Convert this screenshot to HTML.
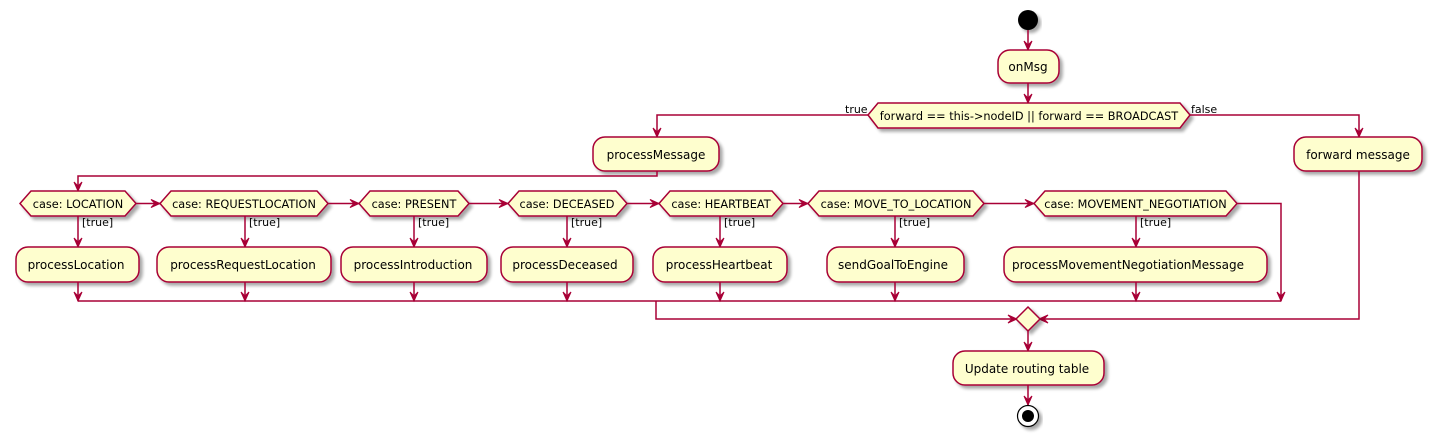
<!DOCTYPE html>
<html><head><meta charset="utf-8"><style>
html,body{margin:0;padding:0;background:#fff;}
svg{display:block;}
text{font-family:"DejaVu Sans","Liberation Sans",sans-serif;fill:#000;}
.b{fill:#FEFECE;stroke:#A80036;stroke-width:1.5;filter:url(#sh);}
.l{fill:none;stroke:#A80036;stroke-width:1.5;}
.a{fill:#A80036;stroke:#A80036;stroke-width:1;}
</style></head><body>
<svg width="1432" height="437" viewBox="0 0 1432 437" xmlns="http://www.w3.org/2000/svg">
<defs>
<filter id="sh" x="-10%" y="-20%" width="130%" height="160%">
<feGaussianBlur in="SourceAlpha" stdDeviation="1.5"/>
<feOffset dx="3" dy="3" result="o"/>
<feComponentTransfer><feFuncA type="linear" slope="0.35"/></feComponentTransfer>
<feMerge><feMergeNode/><feMergeNode in="SourceGraphic"/></feMerge>
</filter>
</defs>

<circle cx="1028" cy="20" r="10" fill="#000" filter="url(#sh)"/>
<path class="l" d="M1028 30 V50"/>
<path class="a" d="M1024 41 L1028 50 L1032 41 L1028 45 Z"/>
<rect class="b" x="998" y="50" width="61" height="33" rx="12"/>
<text x="1028" y="71" font-size="12" text-anchor="middle">onMsg</text>
<path class="l" d="M1028 83 V103"/>
<path class="a" d="M1024 94 L1028 103 L1032 94 L1028 98 Z"/>

<polygon class="b" points="868,115 878,103 1180,103 1190,115 1180,128 878,128"/>
<text x="1029" y="120" font-size="11.3" text-anchor="middle">forward == this-&gt;nodeID || forward == BROADCAST</text>
<text x="845" y="113" font-size="11">true</text>
<text x="1191" y="113" font-size="11">false</text>

<path class="l" d="M868 115 H657 V137"/>
<path class="a" d="M653 128 L657 137 L661 128 L657 132 Z"/>
<path class="l" d="M1190 115 H1359 V137"/>
<path class="a" d="M1355 128 L1359 137 L1363 128 L1359 132 Z"/>

<rect class="b" x="593" y="137" width="126" height="34" rx="12"/>
<text x="656" y="159" font-size="12" text-anchor="middle">processMessage</text>
<rect class="b" x="1294" y="137" width="128" height="34" rx="12"/>
<text x="1358" y="159" font-size="12" text-anchor="middle">forward message</text>

<path class="l" d="M657 171 V176 H78 V191"/>
<path class="a" d="M74 182 L78 191 L82 182 L78 186 Z"/>

<polygon class="b" points="20,203.5 31,191 125,191 136,203.5 125,216 31,216"/>
<text x="78" y="208" font-size="11.3" text-anchor="middle">case: LOCATION</text>
<polygon class="b" points="160,203.5 171,191 317,191 328,203.5 317,216 171,216"/>
<text x="244" y="208" font-size="11.3" text-anchor="middle">case: REQUESTLOCATION</text>
<polygon class="b" points="359,203.5 370,191 458,191 469,203.5 458,216 370,216"/>
<text x="414" y="208" font-size="11.3" text-anchor="middle">case: PRESENT</text>
<polygon class="b" points="508,203.5 519,191 616,191 627,203.5 616,216 519,216"/>
<text x="567" y="208" font-size="11.3" text-anchor="middle">case: DECEASED</text>
<polygon class="b" points="659,203.5 670,191 772,191 783,203.5 772,216 670,216"/>
<text x="721" y="208" font-size="11.3" text-anchor="middle">case: HEARTBEAT</text>
<polygon class="b" points="808,203.5 819,191 973,191 984,203.5 973,216 819,216"/>
<text x="896" y="208" font-size="11.3" text-anchor="middle">case: MOVE_TO_LOCATION</text>
<polygon class="b" points="1034,203.5 1045,191 1226,191 1237,203.5 1226,216 1045,216"/>
<text x="1135.5" y="208" font-size="11.3" text-anchor="middle">case: MOVEMENT_NEGOTIATION</text>

<path class="l" d="M136 203.5 H160 M328 203.5 H359 M469 203.5 H508 M627 203.5 H659 M783 203.5 H808 M984 203.5 H1034 M1237 203.5 H1281 V301"/>
<path class="a" d="M151 199.5 L160 203.5 L151 207.5 L155 203.5 Z"/>
<path class="a" d="M350 199.5 L359 203.5 L350 207.5 L354 203.5 Z"/>
<path class="a" d="M499 199.5 L508 203.5 L499 207.5 L503 203.5 Z"/>
<path class="a" d="M650 199.5 L659 203.5 L650 207.5 L654 203.5 Z"/>
<path class="a" d="M799 199.5 L808 203.5 L799 207.5 L803 203.5 Z"/>
<path class="a" d="M1025 199.5 L1034 203.5 L1025 207.5 L1029 203.5 Z"/>
<path class="a" d="M1277 292 L1281 301 L1285 292 L1281 296 Z"/>

<g>
<path class="l" d="M78 216 V247 M245 216 V247 M414 216 V247 M567 216 V247 M720 216 V247 M895 216 V247 M1136 216 V247"/>
<path class="a" d="M74 238 L78 247 L82 238 L78 242 Z"/>
<path class="a" d="M241 238 L245 247 L249 238 L245 242 Z"/>
<path class="a" d="M410 238 L414 247 L418 238 L414 242 Z"/>
<path class="a" d="M563 238 L567 247 L571 238 L567 242 Z"/>
<path class="a" d="M716 238 L720 247 L724 238 L720 242 Z"/>
<path class="a" d="M891 238 L895 247 L899 238 L895 242 Z"/>
<path class="a" d="M1132 238 L1136 247 L1140 238 L1136 242 Z"/>
<text x="82" y="226" font-size="11">[true]</text>
<text x="249" y="226" font-size="11">[true]</text>
<text x="418" y="226" font-size="11">[true]</text>
<text x="571" y="226" font-size="11">[true]</text>
<text x="724" y="226" font-size="11">[true]</text>
<text x="899" y="226" font-size="11">[true]</text>
<text x="1140" y="226" font-size="11">[true]</text>
</g>

<rect class="b" x="16" y="247" width="123" height="35" rx="12"/>
<text x="76" y="269" font-size="12" text-anchor="middle">processLocation</text>
<rect class="b" x="157" y="247" width="174" height="35" rx="12"/>
<text x="243" y="269" font-size="12" text-anchor="middle">processRequestLocation</text>
<rect class="b" x="341" y="247" width="146" height="35" rx="12"/>
<text x="413" y="269" font-size="12" text-anchor="middle">processIntroduction</text>
<rect class="b" x="501" y="247" width="132" height="35" rx="12"/>
<text x="565" y="269" font-size="12" text-anchor="middle">processDeceased</text>
<rect class="b" x="653" y="247" width="134" height="35" rx="12"/>
<text x="719" y="269" font-size="12" text-anchor="middle">processHeartbeat</text>
<rect class="b" x="827" y="247" width="137" height="35" rx="12"/>
<text x="893" y="269" font-size="12" text-anchor="middle">sendGoalToEngine</text>
<rect class="b" x="1004" y="247" width="263" height="35" rx="12"/>
<text x="1128" y="269" font-size="12" text-anchor="middle">processMovementNegotiationMessage</text>

<path class="l" d="M78 282 V301 M245 282 V301 M414 282 V301 M567 282 V301 M720 282 V301 M895 282 V301 M1136 282 V301 M78 301 H1281"/>
<path class="a" d="M74 292 L78 301 L82 292 L78 296 Z"/>
<path class="a" d="M241 292 L245 301 L249 292 L245 296 Z"/>
<path class="a" d="M410 292 L414 301 L418 292 L414 296 Z"/>
<path class="a" d="M563 292 L567 301 L571 292 L567 296 Z"/>
<path class="a" d="M716 292 L720 301 L724 292 L720 296 Z"/>
<path class="a" d="M891 292 L895 301 L899 292 L895 296 Z"/>
<path class="a" d="M1132 292 L1136 301 L1140 292 L1136 296 Z"/>

<path class="l" d="M656 301 V319 H1017"/>
<path class="a" d="M1008 315 L1017 319 L1008 323 L1012 319 Z"/>
<path class="l" d="M1359 171 V319 H1039"/>
<path class="a" d="M1048 315 L1039 319 L1048 323 L1044 319 Z"/>

<polygon class="b" points="1028,307 1040,319 1028,331 1016,319"/>
<path class="l" d="M1028 331 V351"/>
<path class="a" d="M1024 342 L1028 351 L1032 342 L1028 346 Z"/>
<rect class="b" x="953" y="351" width="151" height="34" rx="12"/>
<text x="1027" y="373" font-size="12" text-anchor="middle">Update routing table</text>
<path class="l" d="M1028 385 V405"/>
<path class="a" d="M1024 396 L1028 405 L1032 396 L1028 400 Z"/>
<circle cx="1028" cy="416" r="10.5" fill="#fff" stroke="#000" stroke-width="1.2" filter="url(#sh)"/>
<circle cx="1028" cy="416" r="6" fill="#000"/>
</svg>
</body></html>
